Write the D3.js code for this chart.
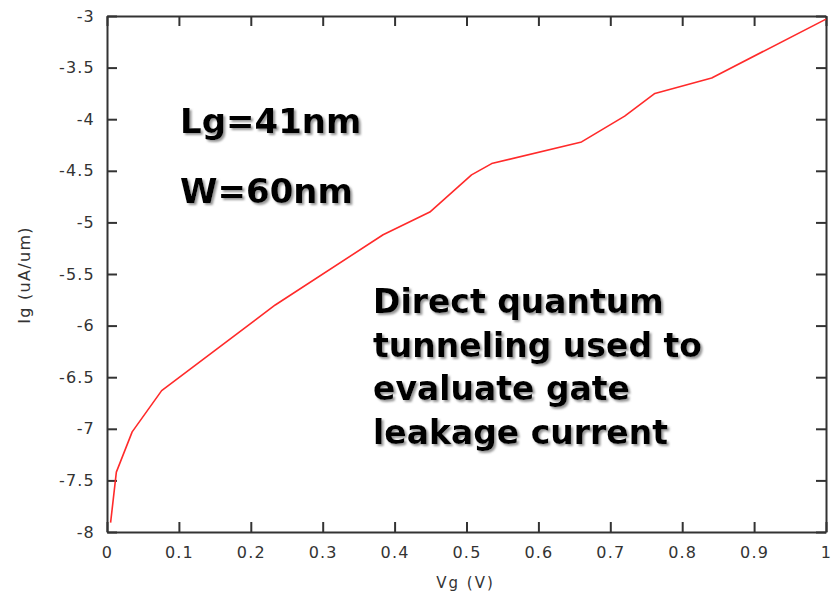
<!DOCTYPE html>
<html>
<head>
<meta charset="utf-8">
<script src="https://cdn.jsdelivr.net/npm/d3@7"></script>
<style>
    html, body { margin: 0; padding: 0; background: #fff; }
    svg { display: block; }
</style>
</head>
<body>
<div class="gate-chart"></div>
<script>
// gate voltage (V) and gate current log10 (uA/um)
const vg = [0.005, 0.013, 0.035, 0.076, 0.234, 0.384, 0.449, 0.507, 0.535, 0.660, 0.720, 0.762, 0.841, 1.0]
const ig = [-7.91, -7.42, -7.03, -6.63, -5.80, -5.12, -4.90, -4.54, -4.43, -4.22, -3.97, -3.75, -3.60, -3.03]
const xTicks = [0, 0.1, 0.2, 0.3, 0.4, 0.5, 0.6, 0.7, 0.8, 0.9, 1]
const yTicks = [-8, -7.5, -7, -6.5, -6, -5.5, -5, -4.5, -4, -3.5, -3]
const noteTop = ["Lg=41nm", "W=60nm"]
const noteBottom = ["Direct quantum", "tunneling used to", "evaluate gate", "leakage current"]

let width = 836, height = 594
let margin = { left: 107, right: 10, top: 16, bottom: 62 }

let svg = d3.select(".gate-chart")
    .append("svg")
    .attr("width", width)
    .attr("height", height)

// soft grey shadow for the bold notes
let shadow = svg.append("defs").append("filter")
    .attr("id", "note-shadow")
    .attr("x", "-5%").attr("y", "-20%")
    .attr("width", "115%").attr("height", "150%")
shadow.append("feDropShadow")
    .attr("dx", 2).attr("dy", 2)
    .attr("stdDeviation", 0.8)
    .attr("flood-color", "#8a8a8a")
    .attr("flood-opacity", 0.9)

let xScale = d3.scaleLinear().domain([0, 1]).range([margin.left, width - margin.right])
let yScale = d3.scaleLinear().domain([-8, -3]).range([height - margin.bottom, margin.top])

let axisColor = "#333"
let labelFont = "DejaVu Sans, sans-serif"
let plain = (d) => String(d)

function styleAxis(g) {
    g.select(".domain").attr("stroke", axisColor).attr("stroke-width", 2)
    g.selectAll(".tick line").attr("stroke", axisColor).attr("stroke-width", 2)
    g.selectAll(".tick text")
        .attr("fill", axisColor)
        .attr("font-size", 16)
        .attr("font-family", labelFont)
        .attr("letter-spacing", 1.2)
}

// bottom axis with labels, ticks pointing inward
svg.append("g")
    .attr("transform", `translate(0,${height - margin.bottom})`)
    .call(d3.axisBottom(xScale).tickValues(xTicks).tickSizeInner(-10).tickSizeOuter(0)
        .tickPadding(15).tickFormat(plain))
    .call(styleAxis)

svg.append("g")
    .attr("transform", `translate(${margin.left},0)`)
    .call(d3.axisLeft(yScale).tickValues(yTicks).tickSizeInner(-10).tickSizeOuter(0)
        .tickPadding(12).tickFormat(plain))
    .call(styleAxis)

// top and right frame
svg.append("g")
    .attr("transform", `translate(0,${margin.top})`)
    .call(d3.axisTop(xScale).tickValues(xTicks).tickSizeInner(-10).tickSizeOuter(0).tickFormat(""))
    .call(styleAxis)

svg.append("g")
    .attr("transform", `translate(${width - margin.right},0)`)
    .call(d3.axisRight(yScale).tickValues(yTicks).tickSizeInner(-10).tickSizeOuter(0).tickFormat(""))
    .call(styleAxis)

// axis titles
svg.append("text")
    .attr("x", xScale(0.5) - 1)
    .attr("y", 588)
    .attr("text-anchor", "middle")
    .attr("font-size", 15)
    .attr("font-family", labelFont)
    .attr("letter-spacing", 2)
    .attr("fill", axisColor)
    .text("Vg (V)")

svg.append("text")
    .attr("transform", `translate(30,${(margin.top + height - margin.bottom) / 2 + 1}) rotate(-90)`)
    .attr("text-anchor", "middle")
    .attr("font-size", 16)
    .attr("font-family", labelFont)
    .attr("letter-spacing", 1.3)
    .attr("fill", axisColor)
    .text("Ig (uA/um)")

// curve
let line = d3.line()
    .x((d, i) => xScale(vg[i]))
    .y((d) => yScale(d))

svg.append("path")
    .datum(ig)
    .attr("fill", "none")
    .attr("stroke", "#ff2a2a")
    .attr("stroke-width", 1.6)
    .attr("stroke-linejoin", "round")
    .attr("d", line)

// bold notes
function note(lines, x, y0, step, size) {
    let g = svg.append("g")
        .attr("font-family", "DejaVu Sans, Verdana, sans-serif")
        .attr("font-weight", "bold")
        .attr("font-size", size)
        .attr("fill", "#000")
        .attr("filter", "url(#note-shadow)")
    g.selectAll("text")
        .data(lines)
        .enter()
        .append("text")
        .attr("x", x)
        .attr("y", (d, i) => y0 + i * step)
        .text((d) => d)
}

note(noteTop, 180, 133, 70, 34)
note(noteBottom, 373, 313, 43.5, 33)
</script>
</body>
</html>
